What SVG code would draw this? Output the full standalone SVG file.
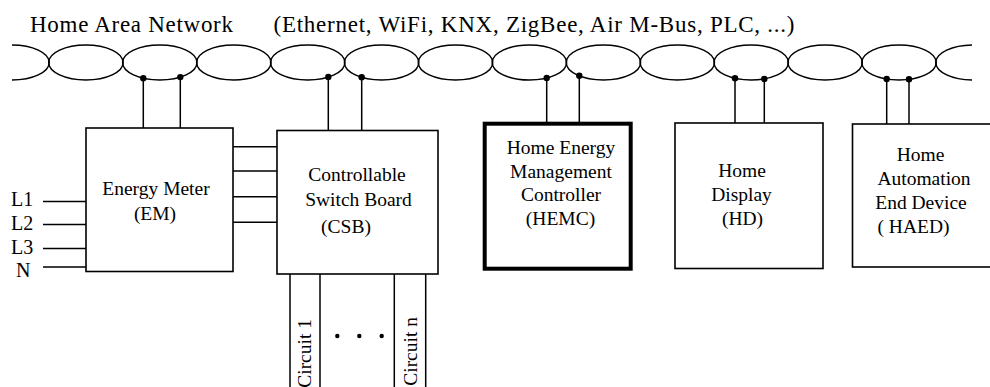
<svg xmlns="http://www.w3.org/2000/svg" width="990" height="387" viewBox="0 0 990 387">
<style>
text{font-family:"Liberation Serif","Times New Roman",serif;fill:#000}
.t{font-size:19.5px;text-anchor:middle}
.lbl{font-size:20px}
.ttl{font-size:23px}
.box{fill:#fff;stroke:#000;stroke-width:1.6}
.thick{fill:#fff;stroke:#000;stroke-width:4}
.ln{stroke:#000;stroke-width:1.5;fill:none}
.ell{fill:none;stroke:#000;stroke-width:1.5}
.dot{fill:#000}
</style>
<defs>
<clipPath id="busclip"><rect x="12" y="30" width="960" height="60"/></clipPath>
</defs>
<rect width="990" height="387" fill="#fff"/>
<g id="title">
<text class="ttl" x="30" y="31.5" textLength="203" lengthAdjust="spacing">Home Area Network</text>
<text class="ttl" x="273.5" y="31.5" textLength="521" lengthAdjust="spacing">(Ethernet, WiFi, KNX, ZigBee, Air M-Bus, PLC, ...)</text>
</g>
<g id="bus" clip-path="url(#busclip)">
<ellipse class="ell" cx="12" cy="62.5" rx="37.2" ry="17.5"/>
<ellipse class="ell" cx="85.9" cy="62.5" rx="37.2" ry="17.5"/>
<ellipse class="ell" cx="159.8" cy="62.5" rx="37.2" ry="17.5"/>
<ellipse class="ell" cx="233.8" cy="62.5" rx="37.2" ry="17.5"/>
<ellipse class="ell" cx="307.7" cy="62.5" rx="37.2" ry="17.5"/>
<ellipse class="ell" cx="381.6" cy="62.5" rx="37.2" ry="17.5"/>
<ellipse class="ell" cx="455.5" cy="62.5" rx="37.2" ry="17.5"/>
<ellipse class="ell" cx="529.4" cy="62.5" rx="37.2" ry="17.5"/>
<ellipse class="ell" cx="603.4" cy="62.5" rx="37.2" ry="17.5"/>
<ellipse class="ell" cx="677.3" cy="62.5" rx="37.2" ry="17.5"/>
<ellipse class="ell" cx="751.2" cy="62.5" rx="37.2" ry="17.5"/>
<ellipse class="ell" cx="825.1" cy="62.5" rx="37.2" ry="17.5"/>
<ellipse class="ell" cx="899" cy="62.5" rx="37.2" ry="17.5"/>
<ellipse class="ell" cx="973" cy="62.5" rx="37.2" ry="17.5"/>
</g>
<g id="connectors">
<path class="ln" d="M143.3 78.2V128M180.3 77.1V128"/>
<path class="ln" d="M328.3 77V130.5M361.7 77.3V130.5"/>
<path class="ln" d="M546.7 78V123.5M579.3 75.8V123.5"/>
<path class="ln" d="M735 78.2V123M764.3 78.9V123"/>
<path class="ln" d="M886.7 79V124M909 79.3V124"/>
<path class="ln" d="M233 146.7H277M233 171H277M233 196.7H277M233 222.3H277"/>
<path class="ln" d="M43 201.5H86M43 224.5H86M43 248.5H86M43 267H86"/>
<path class="ln" d="M290 274V387M320 274V387M394.3 274V387M425.7 274V387"/>
<circle class="dot" cx="143.3" cy="78.2" r="3.2"/>
<circle class="dot" cx="180.3" cy="77.1" r="3.2"/>
<circle class="dot" cx="328.3" cy="77" r="3.2"/>
<circle class="dot" cx="361.7" cy="77.3" r="3.2"/>
<circle class="dot" cx="546.7" cy="78" r="3.2"/>
<circle class="dot" cx="579.3" cy="75.8" r="3.2"/>
<circle class="dot" cx="735" cy="78.2" r="3.2"/>
<circle class="dot" cx="764.3" cy="78.9" r="3.2"/>
<circle class="dot" cx="886.7" cy="79" r="3.2"/>
<circle class="dot" cx="909" cy="79.3" r="3.2"/>
</g>
<g id="inputs">
<text class="lbl" x="11" y="206">L1</text>
<text class="lbl" x="11" y="230">L2</text>
<text class="lbl" x="11" y="254">L3</text>
<text class="lbl" x="16" y="277">N</text>
</g>
<g id="em">
<rect class="box" x="86" y="128" width="147" height="143.5"/>
<text class="t" x="156" y="195">Energy Meter</text>
<text class="t" x="155" y="220">(EM)</text>
</g>
<g id="csb">
<rect class="box" x="277" y="130.5" width="161" height="143.5"/>
<text class="t" x="357" y="181">Controllable</text>
<text class="t" x="358.5" y="205.5">Switch Board</text>
<text class="t" x="346" y="233">(CSB)</text>
</g>
<g id="circuits">
<text class="t" style="text-anchor:end" transform="translate(311,319) rotate(-90)">Circuit 1</text>
<text class="t" style="text-anchor:end" transform="translate(416.7,317) rotate(-90)">Circuit n</text>
<circle class="dot" cx="337.3" cy="336" r="2.2"/>
<circle class="dot" cx="359.3" cy="336" r="2.2"/>
<circle class="dot" cx="381.7" cy="336" r="2.2"/>
</g>
<g id="hemc">
<rect class="thick" x="484.7" y="123.7" width="146" height="145"/>
<text class="t" x="561" y="153.5">Home Energy</text>
<text class="t" x="561" y="177.5">Management</text>
<text class="t" x="561" y="201">Controller</text>
<text class="t" x="560.5" y="225">(HEMC)</text>
</g>
<g id="hd">
<rect class="box" x="675" y="123" width="148" height="145.5"/>
<text class="t" x="742" y="177">Home</text>
<text class="t" x="741.5" y="201">Display</text>
<text class="t" x="742.5" y="225">(HD)</text>
</g>
<g id="haed">
<rect class="box" x="852.5" y="124" width="148" height="143"/>
<text class="t" x="920.5" y="160.7">Home</text>
<text class="t" x="924" y="184.5">Automation</text>
<text class="t" x="921" y="208.5">End Device</text>
<text class="t" x="913.5" y="232.7">( HAED)</text>
</g>
</svg>
